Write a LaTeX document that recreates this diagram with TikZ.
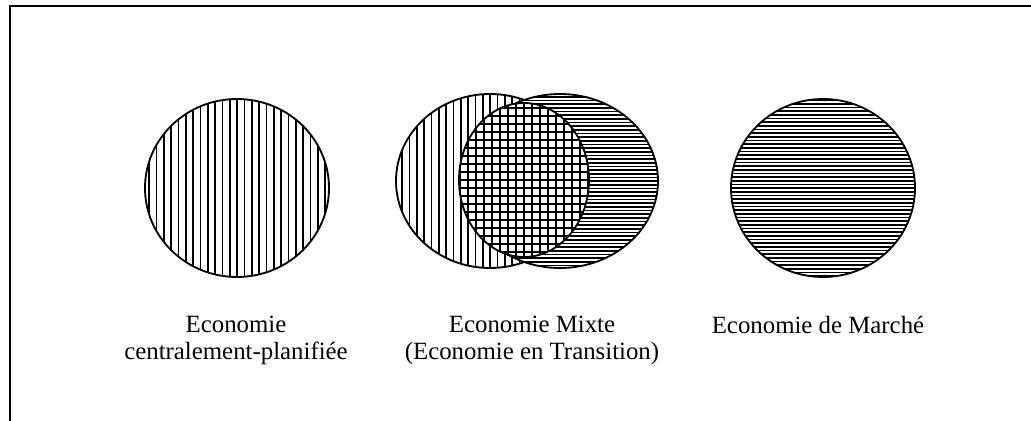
\documentclass[tikz,border=0pt]{standalone}
\usepackage{fontspec}
\setmainfont{Liberation Serif}
\usepackage{tikz}
\usetikzlibrary{shapes.geometric, positioning}
\tikzset{
  venn/.style={ellipse, draw=black, fill=white, line width=1.1pt, inner sep=0pt},
  vlines/.style={path picture={
    \foreach \k in {-16,...,16}
      \draw[line width=1pt] ([xshift=\k*4.4pt]path picture bounding box.north) -- ([xshift=\k*4.4pt]path picture bounding box.south);}},
  hlines/.style={path picture={
    \foreach \k in {-28,...,28}
      \draw[line width=1pt] ([yshift=\k*2.2pt]path picture bounding box.west) -- ([yshift=\k*2.2pt]path picture bounding box.east);}},
  gridlines/.style={path picture={
    \foreach \k in {-12,...,12} {
      \draw[line width=1pt] ([xshift=\k*4.8pt]path picture bounding box.north) -- ([xshift=\k*4.8pt]path picture bounding box.south);
      \draw[line width=1pt] ([yshift=\k*4.8pt]path picture bounding box.west) -- ([yshift=\k*4.8pt]path picture bounding box.east);}}},
  lbl/.style={anchor=north, align=center, inner sep=0pt,
    font=\fontsize{14.9pt}{16.2pt}\selectfont}
}

\begin{document}
\begin{tikzpicture}[x=0.6pt, y=-0.6pt]
  \clip (0,0) rectangle (1031,421);
  \draw[line width=1.1pt] (10,6) rectangle (1050,440);

  % planned economy
  \node[venn, vlines, minimum width=110.4pt, minimum height=106.8pt] (plan) at (237,188) {};
  % mixed economy
  \node[venn, vlines, minimum width=112.8pt, minimum height=104.4pt] (mixL) at (490,181) {};
  \node[venn, hlines, minimum width=117.6pt, minimum height=104.4pt] (mixR) at (560,181) {};
  \node[venn, gridlines, minimum width=78pt, minimum height=92.4pt] (mixC) at (524,180) {};
  % market economy
  \node[venn, hlines, minimum width=110.4pt, minimum height=106.8pt] (market) at (823,188) {};

  \node[lbl] (planlbl) at (236,316) {Economie\\centralement-planifiée};
  \node[lbl] (mixlbl) at (532,316) {Economie Mixte\\(Economie en Transition)};
  \node[lbl] (marketlbl) at (818,316) {Economie de Marché};
\end{tikzpicture}
\end{document}
